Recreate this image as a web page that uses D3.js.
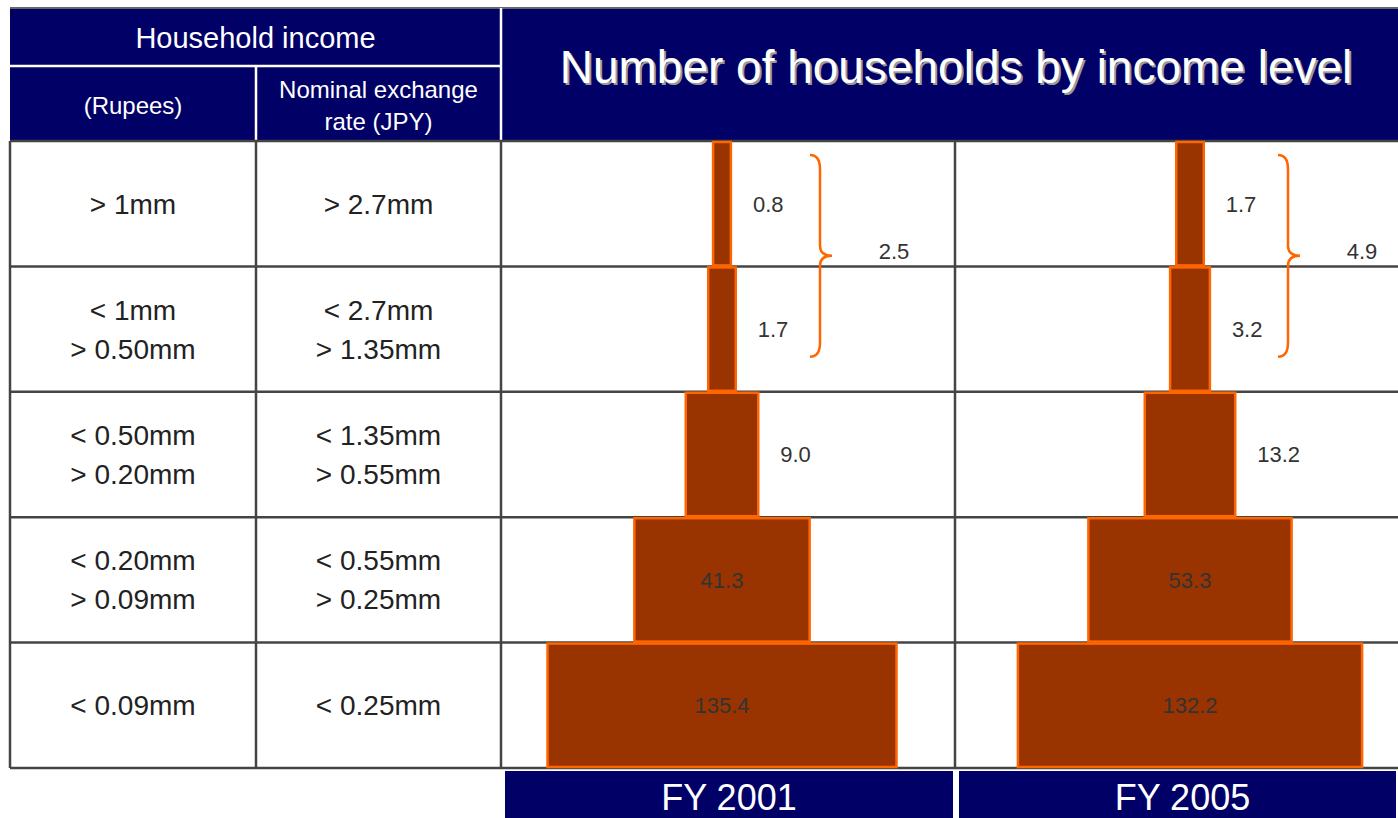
<!DOCTYPE html>
<html>
<head>
<meta charset="utf-8">
<script src="https://cdn.jsdelivr.net/npm/d3@7"></script>
<style>
  body { margin: 0; background: #fff; }
  text { font-family: 'Liberation Sans', Arial, sans-serif; }
</style>
</head>
<body>
<div id="chart"></div>
<script>
'use strict'

const rupeeLabels = ['> 1mm', '< 1mm|> 0.50mm', '< 0.50mm|> 0.20mm', '< 0.20mm|> 0.09mm', '< 0.09mm']
const jpyLabels = ['> 2.7mm', '< 2.7mm|> 1.35mm', '< 1.35mm|> 0.55mm', '< 0.55mm|> 0.25mm', '< 0.25mm']
const years = ['FY 2001', 'FY 2005']
const households2001 = [0.8, 1.7, 9.0, 41.3, 135.4]
const households2005 = [1.7, 3.2, 13.2, 53.3, 132.2]
const topTwoTotals = [2.5, 4.9]

const width = 1398
const height = 818
const navy = '#000066'
const gridColor = '#444'

const svg = d3.select('#chart')
  .append('svg')
  .attr('width', width)
  .attr('height', height)

// table columns and rows
const colX = [10, 256, 501, 955, width]
const headerTop = 8
const headerMid = 66
const bodyTop = 141
const bodyBottom = 768

const yScale = d3.scaleBand()
  .domain(d3.range(rupeeLabels.length))
  .range([bodyTop, bodyBottom])

// bar centres for each year
const xPanel = d3.scaleBand()
  .domain(years)
  .range([488, 1424])

const allValues = households2001.concat(households2005)
const wScale = d3.scalePow()
  .exponent(0.58)
  .domain([0, d3.max(allValues)])
  .range([0, 349])

// header
svg.append('rect')
  .attr('x', colX[0])
  .attr('y', headerTop)
  .attr('width', width - colX[0])
  .attr('height', bodyTop - headerTop)
  .attr('fill', navy)

svg.append('line')
  .attr('x1', colX[0]).attr('x2', width)
  .attr('y1', headerTop).attr('y2', headerTop)
  .attr('stroke', '#666').attr('stroke-width', 2)

svg.append('line')
  .attr('x1', colX[0]).attr('x2', colX[2])
  .attr('y1', headerMid).attr('y2', headerMid)
  .attr('stroke', '#fff').attr('stroke-width', 2.5)
svg.append('line')
  .attr('x1', colX[1]).attr('x2', colX[1])
  .attr('y1', headerMid).attr('y2', bodyTop)
  .attr('stroke', '#fff').attr('stroke-width', 2.5)
svg.append('line')
  .attr('x1', colX[2]).attr('x2', colX[2])
  .attr('y1', headerTop).attr('y2', bodyTop)
  .attr('stroke', '#fff').attr('stroke-width', 2.5)

svg.append('text')
  .attr('x', (colX[0] + colX[2]) / 2)
  .attr('y', 48)
  .attr('text-anchor', 'middle')
  .attr('fill', '#fff')
  .style('font-size', '29px')
  .text('Household income')

svg.append('text')
  .attr('x', (colX[0] + colX[1]) / 2)
  .attr('y', 114)
  .attr('text-anchor', 'middle')
  .attr('fill', '#fff')
  .style('font-size', '24px')
  .text('(Rupees)')

svg.append('text')
  .attr('x', (colX[1] + colX[2]) / 2)
  .attr('y', 98)
  .attr('text-anchor', 'middle')
  .attr('fill', '#fff')
  .style('font-size', '24px')
  .text('Nominal exchange')
svg.append('text')
  .attr('x', (colX[1] + colX[2]) / 2)
  .attr('y', 130)
  .attr('text-anchor', 'middle')
  .attr('fill', '#fff')
  .style('font-size', '24px')
  .text('rate (JPY)')

// title with shadow
const titleX = 956
svg.append('text')
  .attr('x', titleX + 2)
  .attr('y', 85)
  .attr('text-anchor', 'middle')
  .attr('fill', '#9a9a9a')
  .style('font-size', '46px')
  .text('Number of households by income level')
svg.append('text')
  .attr('x', titleX)
  .attr('y', 83)
  .attr('text-anchor', 'middle')
  .attr('fill', '#fff')
  .style('font-size', '46px')
  .text('Number of households by income level')

// body grid
svg.selectAll('row-lines')
  .data(d3.range(rupeeLabels.length + 1))
  .enter()
  .append('line')
  .attr('x1', colX[0])
  .attr('x2', width)
  .attr('y1', d => d < rupeeLabels.length ? yScale(d) : bodyBottom)
  .attr('y2', d => d < rupeeLabels.length ? yScale(d) : bodyBottom)
  .attr('stroke', gridColor)
  .attr('stroke-width', 2.5)

svg.selectAll('col-lines')
  .data(colX.slice(0, 4))
  .enter()
  .append('line')
  .attr('x1', d => d)
  .attr('x2', d => d)
  .attr('y1', bodyTop)
  .attr('y2', bodyBottom)
  .attr('stroke', gridColor)
  .attr('stroke-width', 2.5)

// row labels
function addLabels (labels, cx) {
  labels.forEach((lab, i) => {
    const lines = lab.split('|')
    const cy = yScale(i) + yScale.bandwidth() / 2
    lines.forEach((ln, j) => {
      svg.append('text')
        .attr('x', cx)
        .attr('y', cy + (j - (lines.length - 1) / 2) * 39)
        .attr('dy', '0.36em')
        .attr('text-anchor', 'middle')
        .attr('fill', '#222')
        .style('font-size', '28px')
        .text(ln)
    })
  })
}
addLabels(rupeeLabels, (colX[0] + colX[1]) / 2)
addLabels(jpyLabels, (colX[1] + colX[2]) / 2)

// bars
const series = [households2001, households2005]
series.forEach((vals, k) => {
  const cx = xPanel(years[k]) + xPanel.bandwidth() / 2
  const g = svg.append('g')

  g.selectAll('rect')
    .data(vals)
    .enter()
    .append('rect')
    .attr('x', d => cx - wScale(d) / 2)
    .attr('y', (d, i) => yScale(i) + 1)
    .attr('width', d => wScale(d))
    .attr('height', yScale.bandwidth() - 2)
    .attr('fill', '#993300')
    .attr('stroke', '#ff6600')
    .attr('stroke-width', 2.5)

  g.selectAll('text')
    .data(vals)
    .enter()
    .append('text')
    .attr('x', d => d > 30 ? cx : cx + wScale(d) / 2 + 22)
    .attr('y', (d, i) => yScale(i) + yScale.bandwidth() / 2)
    .attr('dy', '0.36em')
    .attr('text-anchor', d => d > 30 ? 'middle' : 'start')
    .attr('fill', '#333')
    .style('font-size', '22px')
    .text(d => d.toFixed(1))

  // curly brace around the two top rows
  const bx = cx + 88
  const top = yScale(0) + 14
  const bot = yScale(1) + yScale.bandwidth() * 0.72
  const mid = (top + bot) / 2
  const p = d3.path()
  p.moveTo(bx, top)
  p.quadraticCurveTo(bx + 10, top, bx + 10, top + 14)
  p.lineTo(bx + 10, mid - 10)
  p.quadraticCurveTo(bx + 10, mid, bx + 22, mid)
  p.quadraticCurveTo(bx + 10, mid, bx + 10, mid + 10)
  p.lineTo(bx + 10, bot - 14)
  p.quadraticCurveTo(bx + 10, bot, bx, bot)
  g.append('path')
    .attr('d', p.toString())
    .attr('fill', 'none')
    .attr('stroke', '#ff6600')
    .attr('stroke-width', 2.5)

  g.append('text')
    .attr('x', bx + 22 + 62)
    .attr('y', mid - 5)
    .attr('dy', '0.36em')
    .attr('text-anchor', 'middle')
    .attr('fill', '#333')
    .style('font-size', '22px')
    .text(topTwoTotals[k].toFixed(1))

  // year box under each panel
  const px0 = colX[2 + k] + 4
  const px1 = Math.min(colX[3 + k] - 2, width)
  svg.append('rect')
    .attr('x', px0)
    .attr('y', bodyBottom + 3)
    .attr('width', px1 - px0)
    .attr('height', height - bodyBottom - 3)
    .attr('fill', navy)
  svg.append('text')
    .attr('x', (colX[2 + k] + colX[3 + k]) / 2 + (k === 0 ? 1 : 6))
    .attr('y', 810)
    .attr('text-anchor', 'middle')
    .attr('fill', '#fff')
    .style('font-size', '36px')
    .text(years[k])
})
</script>
</body>
</html>
